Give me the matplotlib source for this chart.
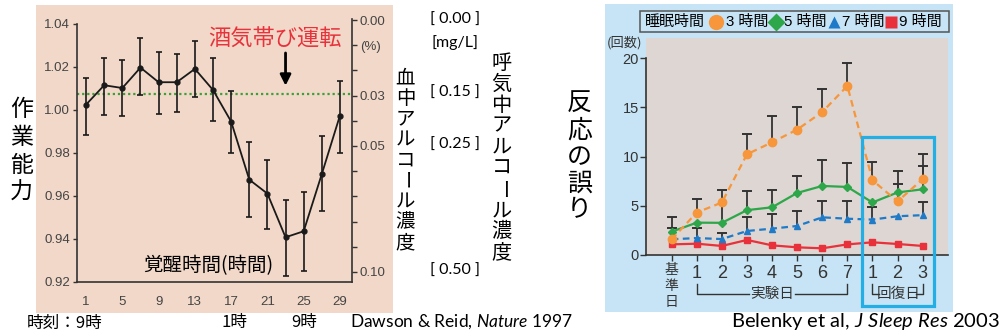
import matplotlib.pyplot as plt
import matplotlib.transforms as mtransforms
from matplotlib.patches import Rectangle
from matplotlib.lines import Line2D

plt.rcParams['font.family'] = ['Liberation Sans', 'Noto Sans CJK JP', 'DejaVu Sans']
plt.rcParams['mathtext.fontset'] = 'custom'
plt.rcParams['mathtext.rm'] = 'Lato'
plt.rcParams['mathtext.it'] = 'Lato:italic'

JP = ['Noto Sans CJK JP', 'DejaVu Sans']
CAP = ['Lato', 'DejaVu Sans']

# left panel: Dawson & Reid (hours awake vs performance)
hours = [1, 3, 5, 7, 9, 11, 13, 15, 17, 19, 21, 23, 25, 27, 29]
perf = [1.0025, 1.0115, 1.0102, 1.0197, 1.0129, 1.0129, 1.0191, 1.0093,
        0.9946, 0.9676, 0.9611, 0.9408, 0.9436, 0.9702, 0.9974]
perf_hi = [1.0149, 1.0242, 1.0234, 1.0333, 1.0268, 1.0260, 1.0321, 1.0242,
           1.0090, 0.9851, 0.9769, 0.9583, 0.9617, 0.9878, 1.0136]
perf_lo = [0.9885, 0.9978, 0.9970, 1.0071, 0.9983, 0.9991, 1.0059, 0.9947,
           0.9800, 0.9502, 0.9447, 0.9226, 0.9250, 0.9532, 0.9800]
hour_ticks = [1, 5, 9, 13, 17, 21, 25, 29]
perf_ticks = [0.92, 0.94, 0.96, 0.98, 1.00, 1.02, 1.04]
bac_ticks = [0.00, 0.01, 0.02, 0.03, 0.04, 0.05, 0.06, 0.07, 0.08, 0.09, 0.10]
bac_labels = ['0.00', '(%)', '', '0.03', '', '0.05', '', '', '', '', '0.10']
drunk_level = 1.0074
breath_labels = ['[ 0.00 ]', '[mg/L]', '[ 0.15 ]', '[ 0.25 ]', '[ 0.50 ]']
breath_y = [20, 43, 93, 145, 271]

# right panel: Belenky et al (errors per day by sleep time)
days = ['基準日', '1', '2', '3', '4', '5', '6', '7', '1', '2', '3']
err3 = [1.6, 4.32, 5.34, 10.24, 11.46, 12.75, 14.54, 17.19, 7.6, 5.45, 7.71]
err3_hi = [None, 5.69, None, 12.27, 14.14, 15.08, 16.85, 19.49, 9.43, 7.22, 10.27]
err5 = [2.37, 3.29, 3.27, 4.56, 4.85, 6.31, 7.02, 6.92, 5.34, 6.36, 6.68]
err5_hi = [3.83, None, 6.6, 6.54, 6.6, 8.03, 9.66, 9.39, None, 8.57, 9.05]
err7 = [1.6, 1.72, 1.62, 2.44, 2.68, 2.95, 3.83, 3.69, 3.6, 3.94, 4.05]
err7_hi = [2.71, 2.71, 2.2, 3.83, 4.14, 4.5, 5.49, 5.49, 4.85, None, 5.36]
err9 = [1.08, 1.15, 0.92, 1.53, 0.98, 0.78, 0.68, 1.08, 1.29, 1.12, 0.92]
count_ticks = [0, 5, 10, 15, 20]

c3, c5, c7, c9 = '#f7963a', '#2ea64a', '#1f7ac7', '#e8313b'

W, H = 1003, 336
def fx(x):
    return x / W
def fy(y):
    return 1 - y / H

def vtext(x, y0, pitch, s, size, **kw):
    # stack characters vertically (pixel coords), long vowel mark turned upright
    for i, ch in enumerate(s):
        fig.text(fx(x), fy(y0 + i * pitch), ch, fontsize=size, family=JP,
                 ha='center', va='center', rotation=-90 if ch == 'ー' else 0, **kw)

fig = plt.figure(figsize=(10.03, 3.36), dpi=100)

# ---------- left panel ----------
fig.add_artist(Rectangle((fx(36), fy(313)), 357 / W, 308 / H, transform=fig.transFigure,
                         facecolor='#f2d8c8', edgecolor='none', zorder=0))
ax1 = fig.add_axes([fx(77), fy(282), 275 / W, 263 / H])
ax1.set_facecolor('none')
yerr = [[p - l for p, l in zip(perf, perf_lo)], [h - p for p, h in zip(perf, perf_hi)]]
ax1.errorbar(hours, perf, yerr=yerr, color='#1a1a1a', lw=1.3, marker='o', ms=3.5,
             capsize=2.2, elinewidth=1.2, capthick=1.2, zorder=3)
ax1.axhline(drunk_level, color='#3aa03a', ls=(0, (1, 1.3)), lw=1.6, zorder=2)
ax1.set_xlim(0, 30.33)
ax1.set_ylim(0.92, 1.0423)
ax1.set_xticks(hour_ticks)
ax1.set_yticks(perf_ticks)
ax1.set_yticklabels(['%.2f' % v for v in perf_ticks])
ax1.tick_params(axis='x', length=0, pad=10, labelsize=9.5, labelcolor='#444')
ax1.tick_params(axis='y', length=3, width=1, pad=2, labelsize=9.5, labelcolor='#444', color='#333')
for s in ['top', 'right']:
    ax1.spines[s].set_visible(False)
for s in ['left', 'bottom']:
    ax1.spines[s].set_color('#333')
    ax1.spines[s].set_linewidth(1.2)
ax1.spines['left'].set_bounds(0.92, 1.04)

tw = ax1.twinx()
tw.set_ylim(0.104, -0.0004)
tw.set_yticks(bac_ticks)
tw.set_yticklabels(bac_labels)
tw.tick_params(axis='y', length=3.5, width=1, pad=2, labelsize=9.5, labelcolor='#444', color='#333')
for s in ['top', 'left', 'bottom']:
    tw.spines[s].set_visible(False)
tw.spines['right'].set_color('#333')
tw.spines['right'].set_linewidth(1.2)

ax1.annotate('', xy=(23, 1.0100), xytext=(23, 1.0278),
             arrowprops=dict(arrowstyle='-|>', color='k', lw=2, mutation_scale=16))
fig.text(fx(275), fy(39), '酒気帯び運転', color='#e8323c', fontsize=16, family=JP,
         ha='center', va='center')
fig.text(fx(208), fy(266), '覚醒時間(時間)', fontsize=14, family=JP, ha='center', va='center')
vtext(21.5, 110, 27.5, '作業能力', 16.5)
vtext(405.5, 78, 20.6, '血中アルコール濃度', 14)
vtext(501.5, 63, 21.1, '呼気中アルコール濃度', 14.5)
for lab, y in zip(breath_labels, breath_y):
    fig.text(fx(455), fy(y), lab, fontsize=11.5, family=CAP, ha='center', va='center')

fig.text(fx(27), fy(323), '時刻：9時', fontsize=12, family=JP, ha='left', va='center')
fig.text(fx(235), fy(323), '1時', fontsize=12, family=JP, ha='center', va='center')
fig.text(fx(304), fy(323), '9時', fontsize=12, family=JP, ha='center', va='center')
fig.text(fx(350), fy(322), r'Dawson & Reid, $\mathit{Nature}$ 1997', fontsize=12.5,
         family=CAP, ha='left', va='center')

# ---------- right panel ----------
fig.add_artist(Rectangle((fx(605), fy(312)), 348 / W, 308 / H, transform=fig.transFigure,
                         facecolor='#c6e4f5', edgecolor='none', zorder=0))
ax2 = fig.add_axes([fx(646), fy(255), 302 / W, 217 / H])
ax2.set_facecolor('#ddd6d2')
x = list(range(len(days)))

for ys, hi in [(err3, err3_hi), (err5, err5_hi), (err7, err7_hi)]:
    xs = [i for i in x if hi[i] is not None]
    lo = [ys[i] for i in xs]
    up = [hi[i] for i in xs]
    ax2.vlines(xs, lo, up, color='#333', lw=1.3, zorder=2)
    ax2.plot(xs, up, ls='none', marker='_', ms=7, mew=1.4, color='#333', zorder=2)

ax2.plot(x, err9, color=c9, lw=1.6, marker='s', ms=4.5, zorder=3)
ax2.plot(x, err7, color=c7, lw=1.6, ls=(0, (3, 2)), marker='^', ms=4.5, zorder=3)
ax2.plot(x, err5, color=c5, lw=1.6, marker='D', ms=4, zorder=4)
ax2.plot(x, err3, color=c3, lw=1.6, ls=(0, (3, 2)), marker='o', ms=6, zorder=5)

ax2.set_xlim(-1.024, 11.01)
ax2.set_ylim(0, 22.06)
ax2.set_xticks(x)
ax2.set_xticklabels([''] + days[1:])
ax2.set_yticks(count_ticks)
ax2.tick_params(axis='x', length=4, width=1, pad=3, labelsize=13, labelcolor='#333', color='#333')
ax2.tick_params(axis='y', length=4, width=1, pad=1, labelsize=10.5, labelcolor='#333', color='#333')
for s in ['top', 'right']:
    ax2.spines[s].set_visible(False)
for s in ['left', 'bottom']:
    ax2.spines[s].set_color('#333')
    ax2.spines[s].set_linewidth(1.2)
ax2.spines['left'].set_bounds(0, 20)

fig.text(fx(625), fy(43), '(回数)', fontsize=9.5, family=JP, ha='center', va='center', color='#333')
vtext(579.5, 104, 26.5, '反応の誤り', 18)
vtext(671.5, 270, 15.8, days[0], 10, color='#333')

# brackets under the day numbers
bt = mtransforms.blended_transform_factory(ax2.transData, fig.transFigure)
bk = dict(color='#333', lw=1, transform=bt)
fig.add_artist(Line2D([1, 1, 3.1], [fy(284), fy(293.5), fy(293.5)], **bk))
fig.add_artist(Line2D([4.9, 7, 7], [fy(293.5), fy(293.5), fy(284)], **bk))
fig.add_artist(Line2D([8, 8, 8.25], [fy(284), fy(293.5), fy(293.5)], **bk))
fig.add_artist(Line2D([9.75, 10, 10], [fy(293.5), fy(293.5), fy(284)], **bk))
fig.text(fx(772), fy(294), '実験日', fontsize=10.5, family=JP, ha='center', va='center', color='#333')
fig.text(fx(899), fy(294), '回復日', fontsize=10.5, family=JP, ha='center', va='center', color='#333')

# recovery-day highlight
fig.add_artist(Rectangle((fx(862), fy(305.5)), 72.5 / W, 169 / H, transform=fig.transFigure,
                         facecolor='none', edgecolor='#23aee6', lw=2.3, zorder=10))

# legend box
fig.add_artist(Rectangle((fx(640), fy(31.5)), 309 / W, 21 / H, transform=fig.transFigure,
                         facecolor='none', edgecolor='#555', lw=1.1, zorder=5))
fig.text(fx(645), fy(21.5), '睡眠時間', fontsize=10.8, family=JP, ha='left', va='center')
for mx, mk, col, tx, lab in [(716.5, 'o', c3, 726, '3 時間'), (775.5, 'D', c5, 784, '5 時間'),
                             (834, '^', c7, 842, '7 時間'), (891.5, 's', c9, 899, '9 時間')]:
    fig.add_artist(Line2D([fx(mx)], [fy(21.5)], marker=mk, ms=11 if mk == 'o' else 9,
                          color=col, mec='none', transform=fig.transFigure))
    fig.text(fx(tx), fy(21.5), lab, fontsize=10.8, family=['Liberation Sans'] + JP,
             ha='left', va='center')

fig.text(fx(1000), fy(321), r'Belenky et al, $\mathit{J\ Sleep\ Res}$ 2003', fontsize=14.5,
         family=CAP, ha='right', va='center')

fig.savefig('out.png', dpi=100)
